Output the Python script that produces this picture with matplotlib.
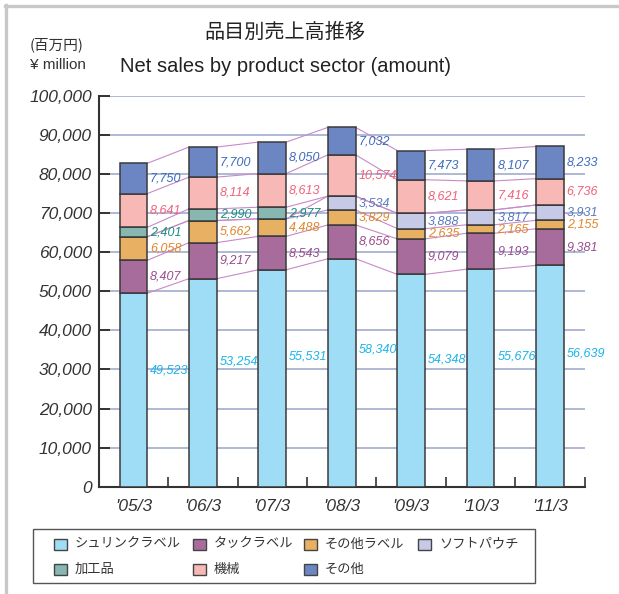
import matplotlib
matplotlib.use('Agg')
import matplotlib.pyplot as plt
from matplotlib.patches import Rectangle
from matplotlib.lines import Line2D
from matplotlib import font_manager
import numpy as np

plt.rcParams['font.family'] = ['Liberation Sans', 'Noto Sans CJK JP', 'DejaVu Sans']

# ---------------- data ----------------
categories = ["'05/3", "'06/3", "'07/3", "'08/3", "'09/3", "'10/3", "'11/3"]
series_names = ['シュリンクラベル', 'タックラベル', 'その他ラベル', 'ソフトパウチ', '加工品', '機械', 'その他']
shrink = [49523, 53254, 55531, 58340, 54348, 55676, 56639]
tack = [8407, 9217, 8543, 8656, 9079, 9193, 9381]
other_label = [6058, 5662, 4488, 3829, 2635, 2165, 2155]
soft_pouch = [0, 0, 0, 3534, 3888, 3817, 3931]
processed = [2401, 2990, 2977, 0, 0, 0, 0]
machine = [8641, 8114, 8613, 10574, 8621, 7416, 6736]
other = [7750, 7700, 8050, 7032, 7473, 8107, 8233]
y_ticks = [0, 10000, 20000, 30000, 40000, 50000, 60000, 70000, 80000, 90000, 100000]

series = [shrink, tack, other_label, soft_pouch, processed, machine, other]
fill_colors = ['#9fdcf6', '#a86c9c', '#e8b062', '#c6cae6', '#88b6b0', '#f8b8b6', '#6c86c4']
text_colors = ['#18b4ea', '#9a4a8c', '#e0862a', '#5878c0', '#14907e', '#f0607a', '#3a6abe']

names = {f.name for f in font_manager.fontManager.ttflist}
if 'Liberation Sans Narrow' in names:
    lab_family, lab_size = ['Liberation Sans Narrow'], 10
else:
    lab_family, lab_size = ['Liberation Sans'], 9

W, H = 619, 594
fig = plt.figure(figsize=(W / 100, H / 100), dpi=100)
ax = fig.add_axes([98.8 / W, 1 - 486.7 / H, (584.7 - 98.8) / W, (486.7 - 96) / H])

x = np.arange(len(categories))
bw = 0.40
bottom = np.zeros(len(categories))
levels = []
for vals, fc in zip(series, fill_colors):
    v = np.array(vals, dtype=float)
    ax.bar(x, v, width=bw, bottom=bottom, color=fc, edgecolor='#3a3a3a',
           linewidth=1.1, zorder=3)
    bottom = bottom + v
    levels.append(bottom.copy())

# connector lines
for lev in levels:
    for i in range(len(categories) - 1):
        ax.plot([x[i] + bw / 2, x[i + 1] - bw / 2], [lev[i], lev[i + 1]],
                color='#c88ac6', lw=0.8, zorder=2)

# value labels
base = np.zeros(len(categories))
for k, (vals, tc) in enumerate(zip(series, text_colors)):
    for i, v in enumerate(vals):
        if v > 0:
            frac = 0.6 if k == 0 else 0.5
            ax.text(x[i] + bw / 2 + 0.04, base[i] + v * frac, f'{v:,}',
                    ha='left', va='center', color=tc, fontsize=lab_size,
                    family=lab_family, style='italic', zorder=5)
    base = base + np.array(vals)

ax.set_xlim(-0.5, len(categories) - 0.5)
ax.set_ylim(0, 100000)
ax.set_yticks(y_ticks)
ax.set_yticklabels([f'{t:,}' for t in y_ticks])
ax.set_xticks(x)
ax.set_xticklabels(categories)
ax.set_xticks(np.arange(len(categories)) + 0.5, minor=True)
ax.tick_params(axis='x', which='major', length=0, pad=9, labelsize=12.5, labelcolor='#333333')
ax.tick_params(axis='x', which='minor', direction='in', length=7, width=1.2, color='#333333')
ax.tick_params(axis='y', which='major', direction='in', length=8, width=1.4, color='#333333',
               pad=5, labelsize=12.5, labelcolor='#333333')
for lab in ax.get_xticklabels() + ax.get_yticklabels():
    lab.set_style('italic')

ax.yaxis.grid(True, color='#98a6cc', lw=1.1, zorder=0)
ax.set_axisbelow(True)
for s in ['top', 'right']:
    ax.spines[s].set_visible(False)
for s in ['left', 'bottom']:
    ax.spines[s].set_color('#333333')
    ax.spines[s].set_linewidth(1.5)

# titles
fig.text(285 / W, 1 - 32 / H, '品目別売上高推移', ha='center', va='center',
         fontsize=14.5, family=['Noto Sans CJK JP'], color='#222222')
fig.text(285 / W, 1 - 66 / H, 'Net sales by product sector (amount)', ha='center', va='center',
         fontsize=14.5, color='#222222')
fig.text(30 / W, 1 - 45 / H, '(百万円)', ha='left', va='center',
         fontsize=10.5, family=['Noto Sans CJK JP'], color='#333333')
fig.text(30 / W, 1 - 65 / H, '¥ million', ha='left', va='center', fontsize=11, color='#333333')

# frame
fig.add_artist(Line2D([6 / W, 6 / W], [0, 1 - 5 / H], transform=fig.transFigure,
                      color='#c8c8c8', lw=2.4))
fig.add_artist(Line2D([5 / W, 1], [1 - 6 / H, 1 - 6 / H], transform=fig.transFigure,
                      color='#c8c8c8', lw=2.4))

# legend (manual)
fig.add_artist(Rectangle((33 / W, 1 - 583 / H), (535 - 33) / W, (583 - 529) / H,
                         transform=fig.transFigure, facecolor='white',
                         edgecolor='#555555', lw=1.0))
col_x = [54, 193, 304, 418]
row_y = [544, 569]
for k, (nm, fc) in enumerate(zip(series_names, fill_colors)):
    r, c = divmod(k, 4)
    px, py = col_x[c], row_y[r]
    fig.add_artist(Rectangle((px / W, 1 - (py + 5.5) / H), 13 / W, 11 / H,
                             transform=fig.transFigure, facecolor=fc,
                             edgecolor='#444444', lw=1.0))
    fig.text((px + 21) / W, 1 - py / H, nm, ha='left', va='center', fontsize=9.5,
             family=['Noto Sans CJK JP'], color='#333333')

fig.savefig('out.png', dpi=100)
